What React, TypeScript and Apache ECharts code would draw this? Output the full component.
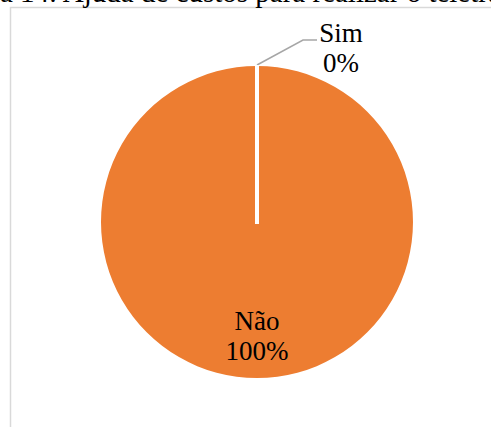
import React, { useEffect, useRef } from "react";
import * as echarts from "echarts";

const categories = ["Sim", "Não"];
const values = [0, 100];
const titleText = "Figura 14: Ajuda de custos para realizar o teletrabalho";

const FONT = "'Liberation Serif', 'Times New Roman', serif";

export default function App() {
  const ref = useRef<HTMLDivElement>(null);
  useEffect(() => {
    if (!ref.current) return;
    const chart = echarts.init(ref.current, null, { renderer: "svg" });
    const cx = 257;
    const cy = 222;
    const r = 156;
    const titleSize = 29;
    chart.setOption({
      animation: false,
      backgroundColor: "#ffffff",
      graphic: [
        {
          type: "rect",
          shape: { x: 10.5, y: 7.5, width: 600, height: 600 },
          style: { fill: "none", stroke: "#d9d9d9", lineWidth: 1.5 },
          z: 0,
        },
        {
          type: "text",
          x: -2.167 * titleSize,
          y: 6.5,
          style: {
            text: titleText,
            font: `${titleSize}px ${FONT}`,
            fill: "#000",
            verticalAlign: "bottom",
            align: "left",
          },
          z: 10,
        },
        {
          type: "line",
          shape: { x1: cx, y1: cy + 2, x2: cx, y2: cy - r - 1 },
          style: { stroke: "#ffffff", lineWidth: 4 },
          z: 100,
        },
      ],
      series: [
        {
          type: "pie",
          center: [cx, cy],
          radius: [0, r],
          startAngle: 90,
          clockwise: true,
          avoidLabelOverlap: false,
          itemStyle: { color: "#ED7D31" },
          label: {
            show: true,
            formatter: (p: any) => `${p.name}\n${Math.round(p.percent)}%`,
            fontFamily: FONT,
            fontSize: 27,
            lineHeight: 30,
            color: "#000",
            align: "center",
          },
          labelLine: {
            show: true,
            lineStyle: { color: "#a6a6a6", width: 1.5 },
          },
          labelLayout: (p: any) => {
            if (p.dataIndex === 0) {
              return {
                x: 341,
                y: 48,
                align: "center",
                verticalAlign: "middle",
                labelLinePoints: [
                  [cx, cy - r - 1],
                  [303, 40],
                  [317, 40],
                ],
              };
            }
            return { x: 257, y: 336, align: "center", verticalAlign: "middle" };
          },
          data: categories.map((name, i) => ({
            name,
            value: values[i],
            label: i === 1 ? { position: "inside" } : { position: "outside" },
            labelLine: i === 1 ? { show: false } : { show: true },
          })),
        },
      ],
    });
    return () => chart.dispose();
  }, []);
  return (
    <div
      ref={ref}
      style={{ position: "fixed", left: 0, top: 0, width: 491, height: 427 }}
    />
  );
}
